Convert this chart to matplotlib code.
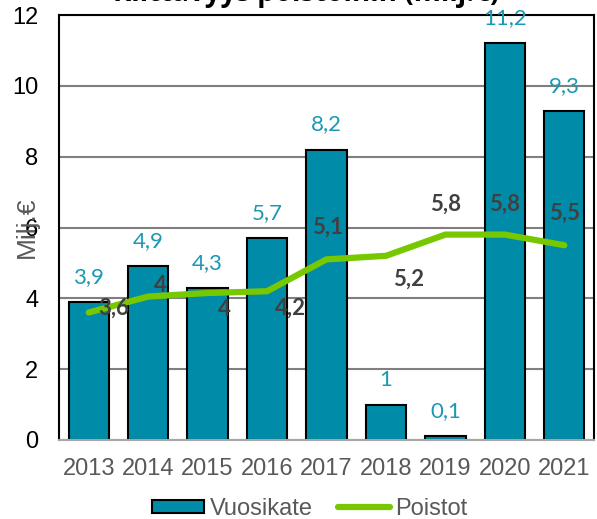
import matplotlib
matplotlib.use("Agg")
import matplotlib.pyplot as plt
from matplotlib.patches import Patch
from matplotlib.lines import Line2D

years = ["2013", "2014", "2015", "2016", "2017", "2018", "2019", "2020", "2021"]
vuosikate = [3.9, 4.9, 4.3, 5.7, 8.2, 1.0, 0.1, 11.2, 9.3]
vuosikate_labels = ["3,9", "4,9", "4,3", "5,7", "8,2", "1", "0,1", "11,2", "9,3"]
poistot = [3.6, 4.05, 4.15, 4.2, 5.1, 5.2, 5.8, 5.8, 5.5]
poistot_labels = ["3,6", "4", "4", "4,2", "5,1", "5,2", "5,8", "5,8", "5,5"]
yticks = [0, 2, 4, 6, 8, 10, 12]

# label offsets (points) for Poistot labels
p_offsets = [(18, 3), (9, 8), (12, -12), (17, -12), (1, 23), (16, -17), (0, 22), (0, 22), (0, 23)]

W, H = 597, 519
fig = plt.figure(figsize=(W / 100, H / 100), dpi=100)
ax = fig.add_axes([59 / W, 1 - 440 / H, (594 - 59) / W, (440 - 15) / H])

bar_color = "#008CA9"
label_teal = "#1A98B4"
green = "#77C800"
dark = "#404040"
grey_txt = "#595959"

x = list(range(len(years)))
ax.bar(x, vuosikate, width=0.68, color=bar_color, edgecolor="black", linewidth=1.5, zorder=2)
ax.plot(x, poistot, color=green, linewidth=4.5, solid_capstyle="round", solid_joinstyle="round", zorder=3)

for xi, v, lab in zip(x, vuosikate, vuosikate_labels):
    ax.annotate(lab, (xi, v), xytext=(0, 18), textcoords="offset points",
                ha="center", va="center", color=label_teal, fontsize=16, family="Lato", zorder=4)
for xi, v, lab, off in zip(x, poistot, poistot_labels, p_offsets):
    ax.annotate(lab, (xi, v), xytext=off, textcoords="offset points",
                ha="center", va="center", color=dark, fontsize=16, family="Lato",
                fontweight="bold", zorder=5)

ax.set_xlim(-0.5, len(years) - 0.5)
ax.set_ylim(0, 12)
ax.set_yticks(yticks)
ax.set_yticklabels([str(t) for t in yticks], fontsize=17, family="Liberation Sans", color="black")
ax.set_xticks(x)
ax.set_xticklabels(years, fontsize=17, family="Liberation Sans", color=grey_txt)
ax.tick_params(axis="y", length=0, pad=15)
ax.tick_params(axis="x", length=0, pad=13)

ax.yaxis.grid(True, color="#7F7F7F", linewidth=1.5, zorder=0)
ax.set_axisbelow(True)
for side in ["left", "right", "top"]:
    ax.spines[side].set_color("black")
    ax.spines[side].set_linewidth(1.5)
ax.spines["bottom"].set_color("#A6A6A6")
ax.spines["bottom"].set_linewidth(1.5)

fig.text(27 / W, 1 - 227 / H, "Milj.€", rotation=90, ha="center", va="center",
         fontsize=19, family="Liberation Sans", color=grey_txt)

fig.text(306 / W, 1 - 1 / H, "Riittävyys poistoihin (milj.€)", ha="center", va="baseline",
         fontsize=20, family="Open Sans", fontweight="bold", color="black")

handles = [Patch(facecolor=bar_color, edgecolor="black", linewidth=1.5),
           Line2D([0], [0], color=green, linewidth=4.5, solid_capstyle="round")]
fig.legend(handles, ["Vuosikate", "Poistot"], loc="center", bbox_to_anchor=(310 / W, 1 - 509 / H),
           ncol=2, frameon=False, prop={"family": "Liberation Sans", "size": 17},
           labelcolor=grey_txt, handlelength=2.2, handleheight=0.5, handletextpad=0.25,
           columnspacing=1.05, borderpad=0.0)

fig.savefig("out.png", dpi=100)
